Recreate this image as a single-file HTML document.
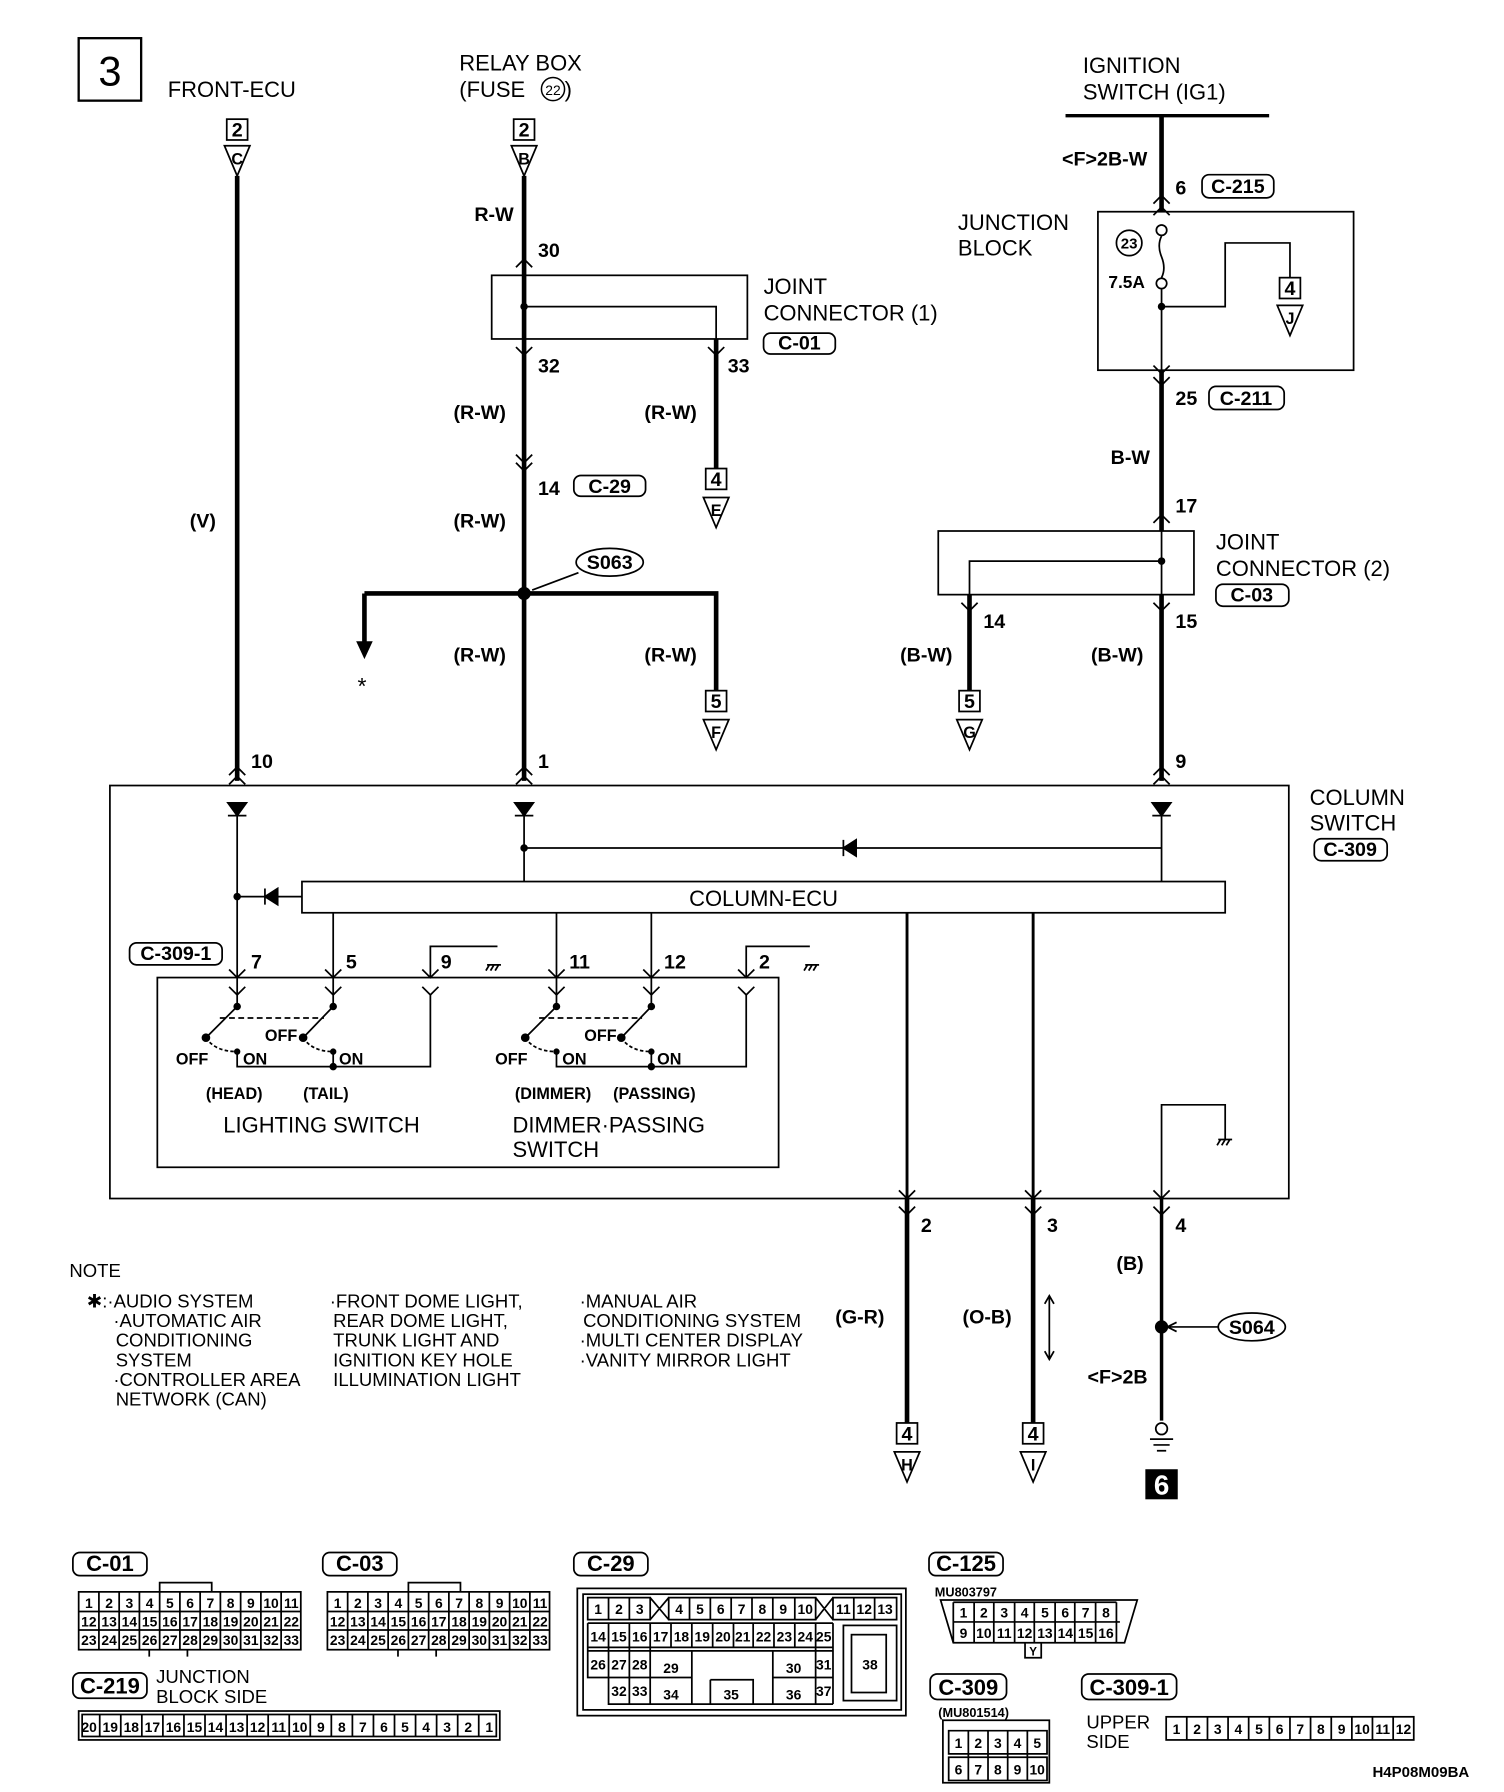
<!DOCTYPE html>
<html><head><meta charset="utf-8"><style>
html,body{margin:0;padding:0;background:#fff;}
svg{display:block;}
text{font-family:"Liberation Sans",sans-serif;fill:#000;}
.b{font-weight:bold;font-size:17px;}
.n{font-size:19px;}
.s{font-weight:bold;font-size:12px;}
.L{font-weight:bold;font-size:14px;}
.t{font-size:16px;}
</style></head><body>
<svg width="1504" height="1792" viewBox="0 0 1300 1549" preserveAspectRatio="none" xmlns="http://www.w3.org/2000/svg">
<g fill="none" stroke="#000" stroke-width="1.5">
<rect x="68" y="33" width="54" height="54" stroke-width="2"/>
<rect x="196" y="103" width="18" height="18"/><path d="M194,126 L216,126 L205,152 Z"/>
<rect x="444" y="103" width="18" height="18"/><path d="M442,126 L464,126 L453,152 Z"/>
<g stroke-width="4">
<path d="M205,152 V675"/>
<path d="M453,152 V675"/>
<path d="M315,513 H619 V597"/>
<path d="M315,513 V560"/>
<path d="M619,293 V405"/>
<path d="M921,100 H1097" stroke-width="3"/>
<path d="M1004,100 V183"/>
<path d="M1004,320 V459"/>
<path d="M1004,514 V675"/>
<path d="M838,514 V597"/>
<path d="M784,1036 V1230"/>
<path d="M893,1036 V1230"/>
<path d="M1004,1036 V1228" stroke-width="3"/>
</g>
<path d="M309,555 L315,568 L321,555 Z" fill="#000"/>
<rect x="425" y="238" width="221" height="55"/>
<path d="M453,265 H619 V293"/>
<rect x="660" y="288" width="62" height="18" rx="6"/>
<path d="M446,231 L453,224 L460,231 M446,300 L453,307 L460,300 M446,393 L453,400 L460,393 M446,400 L453,407 L460,400 M612,300 L619,307 L626,300"/>
<rect x="496" y="411" width="62" height="18" rx="6"/>
<rect x="610" y="405" width="18" height="18"/><path d="M608,430 L630,430 L619,456 Z"/>
<rect x="610" y="597" width="18" height="18"/><path d="M608,622 L630,622 L619,648 Z"/>
<ellipse cx="527" cy="486" rx="29" ry="12"/>
<path d="M500,495 L460,510"/>
<rect x="1039" y="151" width="62" height="20" rx="6"/>
<rect x="949" y="183" width="221" height="137"/>
<path d="M997,176 L1004,169 L1011,176 M997,186 L1004,179 L1011,186"/>
<circle cx="1004" cy="199" r="4.5"/><circle cx="1004" cy="245" r="4.5"/>
<path d="M1004,204 Q1000,212 1004,222 Q1008,232 1004,240"/>
<path d="M1004,250 V320 M1004,265 H1059 V210 H1115 V240"/>
<circle cx="976" cy="210" r="11"/>
<rect x="1106" y="240" width="18" height="18"/><path d="M1104,264 L1126,264 L1115,290 Z"/>
<path d="M997,316 L1004,323 L1011,316 M997,326 L1004,333 L1011,326"/>
<rect x="1045" y="334" width="65" height="20" rx="6"/>
<path d="M997,452 L1004,445 L1011,452"/>
<rect x="811" y="459" width="221" height="55"/>
<path d="M1004,485 H838 V514 M1004,459 V514"/>
<rect x="1051" y="505" width="63" height="19" rx="6"/>
<path d="M831,521 L838,528 L845,521 M997,521 L1004,528 L1011,521"/>
<rect x="829" y="597" width="18" height="18"/><path d="M827,622 L849,622 L838,648 Z"/>
<rect x="95" y="679" width="1019" height="357"/>
<rect x="1136" y="725" width="63" height="19" rx="6"/>
<path d="M198,670 L205,663 L212,670 M198,678 L205,671 L212,678"/>
<path d="M446,670 L453,663 L460,670 M446,678 L453,671 L460,678"/>
<path d="M997,670 L1004,663 L1011,670 M997,678 L1004,671 L1011,678"/>
<path d="M197,694 H213 L205,705 Z M197,705 H213" fill="#000"/>
<path d="M445,694 H461 L453,705 Z M445,705 H461" fill="#000"/>
<path d="M996,694 H1012 L1004,705 Z M996,705 H1012" fill="#000"/>
<path d="M205,705 V860 M453,705 V762 M1004,705 V762 M453,733 H1004"/>
<path d="M740,726 V740 L729,733 Z M729,726 V740" fill="#000"/>
<rect x="261" y="762" width="798" height="27"/>
<path d="M205,775 H261"/>
<path d="M240,768 V782 L229,775 Z M229,768 V782" fill="#000"/>
<circle cx="205" cy="775" r="2.5" fill="#000"/>
<path d="M288,789 V845 M481,789 V845 M563,789 V845"/>
<path d="M784,789 V1036 M893,789 V1036" stroke-width="2.5"/>
<rect x="112" y="815" width="80" height="19" rx="6"/>
<rect x="136" y="845" width="537" height="164"/>
<path d="M372,845 V818 H430 M645,845 V818 H700"/>
<path d="M421,834 h12 M423,834 l-3,5 M427,834 l-3,5 M431,834 l-3,5"/>
<path d="M696,834 h12 M698,834 l-3,5 M702,834 l-3,5 M706,834 l-3,5"/>
<path d="M198,838 L205,845 L212,838 M198,853 L205,860 L212,853 M281,838 L288,845 L295,838 M281,853 L288,860 L295,853 M365,838 L372,845 L379,838 M365,853 L372,860 L379,853 M474,838 L481,845 L488,838 M474,853 L481,860 L488,853 M556,838 L563,845 L570,838 M556,853 L563,860 L570,853 M638,838 L645,845 L652,838 M638,853 L645,860 L652,853"/>
<g>
<path d="M205,860 V870 L178,897 M288,845 V870 L262,897 M481,845 V870 L454,897 M563,845 V870 L537,897"/>
<path d="M190,880 H280 M466,880 H555" stroke-dasharray="5,3"/>
<path d="M178,897 Q186,909 205,909 M262,897 Q270,909 288,909 M454,897 Q462,909 481,909 M537,897 Q545,909 563,909" stroke-dasharray="3,2"/>
<path d="M205,909 V922 H372 V860 M288,909 V922 M481,909 V922 H645 V860 M563,909 V922"/>
</g>
<g fill="#000">
<circle cx="205" cy="870" r="2.5"/><circle cx="178" cy="897" r="3"/><circle cx="205" cy="909" r="2"/>
<circle cx="288" cy="870" r="2.5"/><circle cx="262" cy="897" r="3"/><circle cx="288" cy="909" r="2"/><circle cx="288" cy="922" r="2.5"/>
<circle cx="481" cy="870" r="2.5"/><circle cx="454" cy="897" r="3"/><circle cx="481" cy="909" r="2"/>
<circle cx="563" cy="870" r="2.5"/><circle cx="537" cy="897" r="3"/><circle cx="563" cy="909" r="2"/><circle cx="563" cy="922" r="2.5"/>
<circle cx="453" cy="513" r="5"/><circle cx="453" cy="265" r="2.5"/><circle cx="1004" cy="265" r="2.5"/><circle cx="1004" cy="485" r="2.5"/><circle cx="453" cy="733" r="2.5"/>
<circle cx="1004" cy="1147" r="5"/>
</g>
<path d="M1004,1036 V955 H1059 V985"/>
<path d="M1053,985 h12 M1055,985 l-3,5 M1059,985 l-3,5 M1063,985 l-3,5"/>
<path d="M777,1029 L784,1036 L791,1029 M777,1043 L784,1050 L791,1043 M886,1029 L893,1036 L900,1029 M886,1043 L893,1050 L900,1043 M997,1029 L1004,1036 L1011,1029 M997,1043 L1004,1050 L1011,1043"/>
<path d="M907,1120 V1175 M903,1127 L907,1120 L911,1127 M903,1168 L907,1175 L911,1168"/>
<ellipse cx="1082" cy="1147" rx="29" ry="12"/>
<path d="M1053,1147 H1009 M1017,1143 L1009,1147 L1017,1151"/>
<circle cx="1004" cy="1235" r="5"/>
<path d="M994,1244 H1014 M997,1249 H1011 M1000,1254 H1008"/>
<rect x="775" y="1230" width="18" height="18"/><path d="M773,1255 L795,1255 L784,1281 Z"/>
<rect x="884" y="1230" width="18" height="18"/><path d="M882,1255 L904,1255 L893,1281 Z"/>
<rect x="63" y="1342" width="64" height="20" rx="6"/>
<rect x="279" y="1342" width="64" height="20" rx="6"/>
<rect x="496" y="1342" width="64" height="20" rx="6"/>
<rect x="803" y="1342" width="64" height="20" rx="6"/>
<rect x="63" y="1446" width="64" height="22" rx="6"/>
<rect x="804" y="1447" width="66" height="22" rx="6"/>
<rect x="935" y="1447" width="82" height="22" rx="6"/>
<rect x="68" y="1376" width="192" height="50"/>
<path d="M138,1376 V1368 H183 V1376 M129,1426 v6 M162,1426 v6"/>
<path d="M68,1393 H260 M68,1409 H260 M85.5,1376 V1426 M103,1376 V1426 M120.5,1376 V1426 M138,1376 V1426 M155.5,1376 V1426 M173,1376 V1426 M190.5,1376 V1426 M208,1376 V1426 M225.5,1376 V1426 M243,1376 V1426"/>
<rect x="283" y="1376" width="192" height="50"/>
<path d="M353,1376 V1368 H398 V1376 M344,1426 v6 M377,1426 v6"/>
<path d="M283,1393 H475 M283,1409 H475 M300.5,1376 V1426 M318,1376 V1426 M335.5,1376 V1426 M353,1376 V1426 M370.5,1376 V1426 M388,1376 V1426 M405.5,1376 V1426 M423,1376 V1426 M440.5,1376 V1426 M458,1376 V1426"/>
<rect x="68" y="1479" width="364" height="25"/>
<rect x="71" y="1482" width="358" height="19"/>
<path d="M86.2,1482 V1501 M104.4,1482 V1501 M122.6,1482 V1501 M140.8,1482 V1501 M159,1482 V1501 M177.2,1482 V1501 M195.4,1482 V1501 M213.6,1482 V1501 M231.8,1482 V1501 M250,1482 V1501 M268.2,1482 V1501 M286.4,1482 V1501 M304.6,1482 V1501 M322.8,1482 V1501 M341,1482 V1501 M359.2,1482 V1501 M377.4,1482 V1501 M395.6,1482 V1501 M413.8,1482 V1501"/>
<rect x="499" y="1373" width="284" height="110"/>
<rect x="504" y="1378" width="275" height="100"/>
<path d="M508,1381 H562 V1400 H508 Z M526,1381 V1400 M544,1381 V1400 M562,1381 L578,1400 M578,1381 L562,1400 M578,1381 H705 V1400 H578 Z M596,1381 V1400 M614,1381 V1400 M632,1381 V1400 M650,1381 V1400 M668,1381 V1400 M687,1381 V1400 M705,1381 L720,1400 M720,1381 L705,1400 M720,1381 H775 V1400 H720 Z M738,1381 V1400 M756,1381 V1400"/>
<path d="M508,1403 H720 M508,1424 H720 M508,1427 H720 M526,1403 V1473 M544,1403 V1473 M562,1403 V1473 M580,1403 V1424 M598,1403 V1424 M616,1403 V1424 M634,1403 V1424 M651,1403 V1424 M669,1403 V1424 M687,1403 V1424 M705,1403 V1473 M720,1403 V1473 M508,1403 V1450 H562 M526,1450 V1473 H720 M598,1427 V1473 M668,1427 V1473 M668,1450 H720 M562,1450 H598 M614,1452 H651 V1473 M614,1452 V1473"/>
<rect x="729" y="1405" width="46" height="65"/>
<rect x="736" y="1413" width="30" height="50"/>
<path d="M813,1383 H983 L972,1420 H824 Z"/>
<path d="M824,1402 H968 M842,1385 V1420 M859,1385 V1420 M877,1385 V1420 M894,1385 V1420 M912,1385 V1420 M929,1385 V1420 M947,1385 V1420 M824,1385 H965 M824,1385 V1420 M965,1385 V1420 M886,1420 V1433 H900 V1420"/>
<rect x="815" y="1487" width="92" height="54"/>
<path d="M820,1496 H905 V1516 H820 Z M820,1519 H905 V1539 H820 Z M837,1496 V1539 M854,1496 V1539 M871,1496 V1539 M888,1496 V1539"/>
<rect x="1008" y="1484" width="214" height="20"/>
<path d="M1025.8,1484 V1504 M1043.7,1484 V1504 M1061.5,1484 V1504 M1079.3,1484 V1504 M1097.2,1484 V1504 M1115,1484 V1504 M1132.8,1484 V1504 M1150.7,1484 V1504 M1168.5,1484 V1504 M1186.3,1484 V1504 M1204.2,1484 V1504"/>
</g>
<rect x="990" y="1270" width="28" height="26" fill="#000"/>
<text x="1004" y="1292" text-anchor="middle" style="font-size:24px;font-weight:bold;fill:#fff">6</text>

<text x="95" y="74" text-anchor="middle" style="font-size:36px">3</text>
<text x="145" y="84" class="n">FRONT-ECU</text>
<text x="397" y="61" class="n">RELAY BOX</text>
<text x="397" y="84" class="n">(FUSE </text><circle cx="478" cy="77" r="10" fill="none" stroke="#000" stroke-width="1.3"/><text x="478" y="82" text-anchor="middle" style="font-size:12px">22</text><text x="488" y="84" class="n">)</text>
<text x="205" y="118" text-anchor="middle" class="b">2</text><text x="205" y="142" text-anchor="middle" class="L">C</text>
<text x="453" y="118" text-anchor="middle" class="b">2</text><text x="453" y="142" text-anchor="middle" class="L">B</text>
<text x="164" y="456" class="b">(V)</text>
<text x="217" y="664" class="b">10</text>
<text x="410" y="191" class="b">R-W</text>
<text x="465" y="222" class="b">30</text>
<text x="660" y="254" class="n">JOINT</text>
<text x="660" y="277" class="n">CONNECTOR (1)</text>
<text x="691" y="302" text-anchor="middle" class="b">C-01</text>
<text x="465" y="322" class="b">32</text>
<text x="629" y="322" class="b">33</text>
<text x="392" y="362" class="b">(R-W)</text>
<text x="557" y="362" class="b">(R-W)</text>
<text x="465" y="428" class="b">14</text>
<text x="527" y="426" text-anchor="middle" class="b">C-29</text>
<text x="619" y="420" text-anchor="middle" class="b">4</text><text x="619" y="446" text-anchor="middle" class="L">E</text>
<text x="392" y="456" class="b">(R-W)</text>
<text x="527" y="492" text-anchor="middle" class="b">S063</text>
<text x="309" y="600" style="font-size:20px">*</text>
<text x="392" y="572" class="b">(R-W)</text>
<text x="557" y="572" class="b">(R-W)</text>
<text x="619" y="612" text-anchor="middle" class="b">5</text><text x="619" y="638" text-anchor="middle" class="L">F</text>
<text x="465" y="664" class="b">1</text>
<text x="936" y="63" class="n">IGNITION</text>
<text x="936" y="86" class="n">SWITCH (IG1)</text>
<text x="918" y="143" class="b">&lt;F&gt;2B-W</text>
<text x="1016" y="168" class="b">6</text>
<text x="1070" y="167" text-anchor="middle" class="b">C-215</text>
<text x="828" y="199" class="n">JUNCTION</text>
<text x="828" y="221" class="n">BLOCK</text>
<text x="976" y="215" text-anchor="middle" class="s" style="font-size:13px">23</text>
<text x="958" y="249" class="b" style="font-size:15px">7.5A</text>
<text x="1115" y="255" text-anchor="middle" class="b">4</text><text x="1115" y="280" text-anchor="middle" class="L">J</text>
<text x="1016" y="350" class="b">25</text>
<text x="1077" y="350" text-anchor="middle" class="b">C-211</text>
<text x="960" y="401" class="b">B-W</text>
<text x="1016" y="443" class="b">17</text>
<text x="1051" y="475" class="n">JOINT</text>
<text x="1051" y="498" class="n">CONNECTOR (2)</text>
<text x="1082" y="520" text-anchor="middle" class="b">C-03</text>
<text x="850" y="543" class="b">14</text>
<text x="1016" y="543" class="b">15</text>
<text x="778" y="572" class="b">(B-W)</text>
<text x="943" y="572" class="b">(B-W)</text>
<text x="838" y="612" text-anchor="middle" class="b">5</text><text x="838" y="638" text-anchor="middle" class="L">G</text>
<text x="1016" y="664" class="b">9</text>
<text x="1132" y="696" class="n">COLUMN</text>
<text x="1132" y="718" class="n">SWITCH</text>
<text x="1167" y="740" text-anchor="middle" class="b">C-309</text>
<text x="660" y="783" text-anchor="middle" class="n">COLUMN-ECU</text>
<text x="152" y="830" text-anchor="middle" class="b">C-309-1</text>
<text x="217" y="837" class="b">7</text>
<text x="299" y="837" class="b">5</text>
<text x="381" y="837" class="b">9</text>
<text x="492" y="837" class="b">11</text>
<text x="574" y="837" class="b">12</text>
<text x="656" y="837" class="b">2</text>
<g class="s" style="font-size:14px">
<text x="152" y="920">OFF</text><text x="210" y="920">ON</text><text x="229" y="900">OFF</text><text x="293" y="920">ON</text>
<text x="428" y="920">OFF</text><text x="486" y="920">ON</text><text x="505" y="900">OFF</text><text x="568" y="920">ON</text>
<text x="178" y="950">(HEAD)</text><text x="262" y="950">(TAIL)</text>
<text x="445" y="950">(DIMMER)</text><text x="530" y="950">(PASSING)</text>
</g>
<text x="193" y="979" class="n">LIGHTING SWITCH</text>
<text x="443" y="979" class="n">DIMMER·PASSING</text>
<text x="443" y="1000" class="n">SWITCH</text>
<text x="796" y="1065" class="b">2</text>
<text x="905" y="1065" class="b">3</text>
<text x="1016" y="1065" class="b">4</text>
<text x="965" y="1098" class="b">(B)</text>
<text x="722" y="1144" class="b">(G-R)</text>
<text x="832" y="1144" class="b">(O-B)</text>
<text x="1082" y="1153" text-anchor="middle" class="b">S064</text>
<text x="940" y="1196" class="b">&lt;F&gt;2B</text>
<text x="784" y="1245" text-anchor="middle" class="b">4</text><text x="784" y="1271" text-anchor="middle" class="L">H</text>
<text x="893" y="1245" text-anchor="middle" class="b">4</text><text x="893" y="1271" text-anchor="middle" class="L">I</text>
<g class="t">
<text x="60" y="1104">NOTE</text>
<text x="75" y="1130">✱:·AUDIO SYSTEM</text>
<text x="98" y="1147">·AUTOMATIC AIR</text>
<text x="100" y="1164">CONDITIONING</text>
<text x="100" y="1181">SYSTEM</text>
<text x="98" y="1198">·CONTROLLER AREA</text>
<text x="100" y="1215">NETWORK (CAN)</text>
<text x="285" y="1130">·FRONT DOME LIGHT,</text>
<text x="288" y="1147">REAR DOME LIGHT,</text>
<text x="288" y="1164">TRUNK LIGHT AND</text>
<text x="288" y="1181">IGNITION KEY HOLE</text>
<text x="288" y="1198">ILLUMINATION LIGHT</text>
<text x="501" y="1130">·MANUAL AIR</text>
<text x="504" y="1147">CONDITIONING SYSTEM</text>
<text x="501" y="1164">·MULTI CENTER DISPLAY</text>
<text x="501" y="1181">·VANITY MIRROR LIGHT</text>
</g>
<text x="95" y="1358" text-anchor="middle" class="b" style="font-size:19px">C-01</text>
<text x="311" y="1358" text-anchor="middle" class="b" style="font-size:19px">C-03</text>
<text x="528" y="1358" text-anchor="middle" class="b" style="font-size:19px">C-29</text>
<text x="835" y="1358" text-anchor="middle" class="b" style="font-size:19px">C-125</text>
<text x="95" y="1464" text-anchor="middle" class="b" style="font-size:19px">C-219</text>
<text x="837" y="1465" text-anchor="middle" class="b" style="font-size:19px">C-309</text>
<text x="976" y="1465" text-anchor="middle" class="b" style="font-size:19px">C-309-1</text>
<text x="135" y="1455" class="t">JUNCTION</text>
<text x="135" y="1472" class="t">BLOCK SIDE</text>
<text x="808" y="1380" class="s" style="font-size:11px">MU803797</text>
<text x="811" y="1484" class="s" style="font-size:11px">(MU801514)</text>
<text x="939" y="1494" class="t">UPPER</text>
<text x="939" y="1511" class="t">SIDE</text>
<text x="1270" y="1536" text-anchor="end" class="s" style="font-size:13px">H4P08M09BA</text>
<g class="s" text-anchor="middle">
<text x="76.8" y="1390">1</text><text x="94.3" y="1390">2</text><text x="111.8" y="1390">3</text><text x="129.3" y="1390">4</text><text x="146.8" y="1390">5</text><text x="164.3" y="1390">6</text><text x="181.8" y="1390">7</text><text x="199.3" y="1390">8</text><text x="216.8" y="1390">9</text><text x="234.3" y="1390">10</text><text x="251.8" y="1390">11</text>
<text x="76.8" y="1406">12</text><text x="94.3" y="1406">13</text><text x="111.8" y="1406">14</text><text x="129.3" y="1406">15</text><text x="146.8" y="1406">16</text><text x="164.3" y="1406">17</text><text x="181.8" y="1406">18</text><text x="199.3" y="1406">19</text><text x="216.8" y="1406">20</text><text x="234.3" y="1406">21</text><text x="251.8" y="1406">22</text>
<text x="76.8" y="1422">23</text><text x="94.3" y="1422">24</text><text x="111.8" y="1422">25</text><text x="129.3" y="1422">26</text><text x="146.8" y="1422">27</text><text x="164.3" y="1422">28</text><text x="181.8" y="1422">29</text><text x="199.3" y="1422">30</text><text x="216.8" y="1422">31</text><text x="234.3" y="1422">32</text><text x="251.8" y="1422">33</text>
<text x="291.8" y="1390">1</text><text x="309.3" y="1390">2</text><text x="326.8" y="1390">3</text><text x="344.3" y="1390">4</text><text x="361.8" y="1390">5</text><text x="379.3" y="1390">6</text><text x="396.8" y="1390">7</text><text x="414.3" y="1390">8</text><text x="431.8" y="1390">9</text><text x="449.3" y="1390">10</text><text x="466.8" y="1390">11</text>
<text x="291.8" y="1406">12</text><text x="309.3" y="1406">13</text><text x="326.8" y="1406">14</text><text x="344.3" y="1406">15</text><text x="361.8" y="1406">16</text><text x="379.3" y="1406">17</text><text x="396.8" y="1406">18</text><text x="414.3" y="1406">19</text><text x="431.8" y="1406">20</text><text x="449.3" y="1406">21</text><text x="466.8" y="1406">22</text>
<text x="291.8" y="1422">23</text><text x="309.3" y="1422">24</text><text x="326.8" y="1422">25</text><text x="344.3" y="1422">26</text><text x="361.8" y="1422">27</text><text x="379.3" y="1422">28</text><text x="396.8" y="1422">29</text><text x="414.3" y="1422">30</text><text x="431.8" y="1422">31</text><text x="449.3" y="1422">32</text><text x="466.8" y="1422">33</text>
<text x="77.1" y="1497">20</text><text x="95.3" y="1497">19</text><text x="113.5" y="1497">18</text><text x="131.7" y="1497">17</text><text x="149.9" y="1497">16</text><text x="168.1" y="1497">15</text><text x="186.3" y="1497">14</text><text x="204.5" y="1497">13</text><text x="222.7" y="1497">12</text><text x="240.9" y="1497">11</text><text x="259.1" y="1497">10</text><text x="277.3" y="1497">9</text><text x="295.5" y="1497">8</text><text x="313.7" y="1497">7</text><text x="331.9" y="1497">6</text><text x="350.1" y="1497">5</text><text x="368.3" y="1497">4</text><text x="386.5" y="1497">3</text><text x="404.7" y="1497">2</text><text x="422.9" y="1497">1</text>
<text x="517" y="1395">1</text><text x="535" y="1395">2</text><text x="553" y="1395">3</text>
<text x="587" y="1395">4</text><text x="605" y="1395">5</text><text x="623" y="1395">6</text><text x="641" y="1395">7</text><text x="659" y="1395">8</text><text x="677" y="1395">9</text><text x="696" y="1395">10</text>
<text x="729" y="1395">11</text><text x="747" y="1395">12</text><text x="765" y="1395">13</text>
<text x="517" y="1419">14</text><text x="535" y="1419">15</text><text x="553" y="1419">16</text><text x="571" y="1419">17</text><text x="589" y="1419">18</text><text x="607" y="1419">19</text><text x="625" y="1419">20</text><text x="642" y="1419">21</text><text x="660" y="1419">22</text><text x="678" y="1419">23</text><text x="696" y="1419">24</text><text x="712" y="1419">25</text>
<text x="517" y="1443">26</text><text x="535" y="1443">27</text><text x="553" y="1443">28</text><text x="580" y="1446">29</text><text x="686" y="1446">30</text><text x="712" y="1443">31</text><text x="752" y="1443">38</text>
<text x="535" y="1466">32</text><text x="553" y="1466">33</text><text x="580" y="1469">34</text><text x="632" y="1469">35</text><text x="686" y="1469">36</text><text x="712" y="1466">37</text>
<text x="832.8" y="1398">1</text><text x="850.4" y="1398">2</text><text x="868" y="1398">3</text><text x="885.6" y="1398">4</text><text x="903.2" y="1398">5</text><text x="920.8" y="1398">6</text><text x="938.4" y="1398">7</text><text x="956" y="1398">8</text>
<text x="832.8" y="1416">9</text><text x="850.4" y="1416">10</text><text x="868" y="1416">11</text><text x="885.6" y="1416">12</text><text x="903.2" y="1416">13</text><text x="920.8" y="1416">14</text><text x="938.4" y="1416">15</text><text x="956" y="1416">16</text>
<text x="893" y="1431" style="font-size:10px">Y</text>
<text x="828.5" y="1511">1</text><text x="845.5" y="1511">2</text><text x="862.5" y="1511">3</text><text x="879.5" y="1511">4</text><text x="896.5" y="1511">5</text>
<text x="828.5" y="1534">6</text><text x="845.5" y="1534">7</text><text x="862.5" y="1534">8</text><text x="879.5" y="1534">9</text><text x="896.5" y="1534">10</text>
<text x="1016.9" y="1499">1</text><text x="1034.7" y="1499">2</text><text x="1052.6" y="1499">3</text><text x="1070.4" y="1499">4</text><text x="1088.2" y="1499">5</text><text x="1106.1" y="1499">6</text><text x="1123.9" y="1499">7</text><text x="1141.7" y="1499">8</text><text x="1159.6" y="1499">9</text><text x="1177.4" y="1499">10</text><text x="1195.2" y="1499">11</text><text x="1213.1" y="1499">12</text>
</g>
</svg>
</body></html>
